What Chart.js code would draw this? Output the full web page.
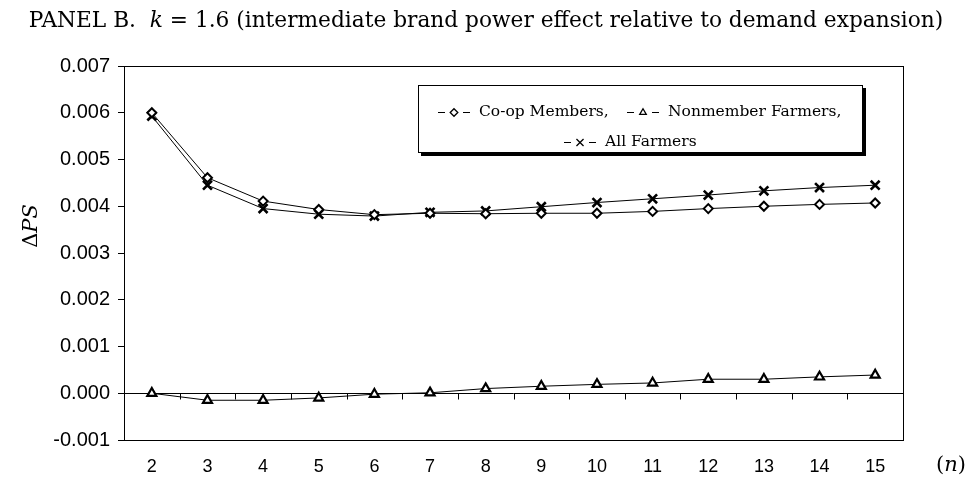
<!DOCTYPE html>
<html>
<head>
<meta charset="utf-8">
<script src="https://cdn.jsdelivr.net/npm/chart.js@4/dist/chart.umd.min.js"></script>
<style>
html,body{margin:0;padding:0;background:#fff;}
canvas{display:block;}
</style>
</head>
<body>
<canvas id="c" width="969" height="489"></canvas>
<script>
// ---- data ----
const nValues = [2, 3, 4, 5, 6, 7, 8, 9, 10, 11, 12, 13, 14, 15];
const coopMembers = [0.00600, 0.00461, 0.00411, 0.00393, 0.00382, 0.00385, 0.00384, 0.00385, 0.00385, 0.00389, 0.00395, 0.00400, 0.00404, 0.00407];
const nonmemberFarmers = [0.00000, -0.00015, -0.00015, -0.00010, -0.00002, 0.00001, 0.00010, 0.00015, 0.00019, 0.00022, 0.00030, 0.00030, 0.00035, 0.00039];
const allFarmers = [0.00593, 0.00445, 0.00395, 0.00383, 0.00379, 0.00387, 0.00390, 0.00399, 0.00408, 0.00416, 0.00424, 0.00433, 0.00440, 0.00445];
const yTicks = [-0.001, 0.000, 0.001, 0.002, 0.003, 0.004, 0.005, 0.006, 0.007];
const seriesNames = ['Co-op Members,', 'Nonmember Farmers,', 'All Farmers'];
const titleParts = [['PANEL B.  ', false], ['k', true], [' = 1.6 (intermediate brand power effect relative to demand expansion)', false]];
const yTitleParts = [['\u0394', false], ['PS', true]];
const xTitleParts = [['(', false], ['n', true], [')', false]];

const SERIF = '"DejaVu Serif", "Liberation Serif", serif';
const SANS = '"Liberation Sans", Arial, sans-serif';

function drawParts(ctx, parts, size, cx, cy) {
  const fonts = parts.map(p => (p[1] ? 'italic ' : '') + size + 'px ' + SERIF);
  let total = 0;
  const widths = parts.map((p, i) => { ctx.font = fonts[i]; const w = ctx.measureText(p[0]).width; total += w; return w; });
  let x = cx - total / 2;
  ctx.textAlign = 'left';
  ctx.textBaseline = 'middle';
  parts.forEach((p, i) => { ctx.font = fonts[i]; ctx.fillText(p[0], x, cy); x += widths[i]; });
}

const decor = {
  id: 'decor',
  beforeDatasetsDraw(chart) {
    const ctx = chart.ctx, a = chart.chartArea, xs = chart.scales.x, ys = chart.scales.y;
    ctx.save();
    ctx.strokeStyle = '#000';
    ctx.lineWidth = 1;
    // frame
    ctx.strokeRect(Math.round(a.left) + 0.5, Math.round(a.top) + 0.5, Math.round(a.right - a.left), Math.round(a.bottom - a.top));
    // zero line with category boundary ticks
    const y0 = Math.round(ys.getPixelForValue(0)) + 0.5;
    ctx.beginPath();
    ctx.moveTo(a.left, y0); ctx.lineTo(a.right, y0);
    for (let i = 0; i < nValues.length - 1; i++) {
      const xb = Math.round((xs.getPixelForValue(i) + xs.getPixelForValue(i + 1)) / 2) + 0.5;
      ctx.moveTo(xb, y0); ctx.lineTo(xb, y0 + 6);
    }
    ctx.stroke();
    ctx.restore();
  },
  afterDraw(chart) {
    const ctx = chart.ctx;
    ctx.save();
    ctx.fillStyle = '#000';
    // title
    drawParts(ctx, titleParts, 21.7, 486, 21);
    // y title (rotated)
    ctx.save();
    ctx.translate(32, 226);
    ctx.rotate(-Math.PI / 2);
    drawParts(ctx, yTitleParts, 21, 0, 0);
    ctx.restore();
    // x title
    drawParts(ctx, xTitleParts, 21, 951, 466);

    // legend box with shadow
    const L = 418, T = 85, R = 863, B = 153;
    ctx.fillStyle = '#000';
    ctx.fillRect(L + 3, B, R - L, 3);
    ctx.fillRect(R, T + 3, 3, B - T);
    ctx.fillStyle = '#fff';
    ctx.fillRect(L, T, R - L, B - T);
    ctx.strokeStyle = '#000';
    ctx.lineWidth = 1;
    ctx.strokeRect(L + 0.5, T + 0.5, R - L - 1, B - T - 1);

    const items = [
      {ds: 0, x: 438, y: 112},
      {ds: 1, x: 627, y: 112},
      {ds: 2, x: 564, y: 142}
    ];
    ctx.font = '15.5px ' + SERIF;
    items.forEach(it => {
      const ds = chart.data.datasets[it.ds];
      ctx.strokeStyle = '#000';
      ctx.lineWidth = 1;
      ctx.beginPath();
      ctx.moveTo(it.x, it.y + 0.5); ctx.lineTo(it.x + 7, it.y + 0.5);
      ctx.moveTo(it.x + 25, it.y + 0.5); ctx.lineTo(it.x + 32, it.y + 0.5);
      ctx.stroke();
      ctx.fillStyle = '#fff';
      ctx.strokeStyle = '#000';
      ctx.lineWidth = 1.3;
      Chart.helpers.drawPoint(ctx, {pointStyle: ds.pointStyle, radius: it.ds === 2 ? 5 : 3.8, borderWidth: 1.3}, it.x + 16, it.y + 0.5);
      ctx.fillStyle = '#000';
      ctx.textAlign = 'left';
      ctx.textBaseline = 'middle';
      ctx.fillText(ds.label, it.x + 41, it.y);
    });
    ctx.restore();
  }
};

const ctx = document.getElementById('c').getContext('2d');
new Chart(ctx, {
  type: 'line',
  data: {
    labels: nValues.map(String),
    datasets: [
      {label: seriesNames[0], data: coopMembers, borderColor: '#000', borderWidth: 1, pointStyle: 'rectRot', pointRadius: 4.5, pointBorderWidth: 2, pointBackgroundColor: '#fff', pointBorderColor: '#000', tension: 0},
      {label: seriesNames[1], data: nonmemberFarmers, borderColor: '#000', borderWidth: 1, pointStyle: 'triangle', pointRadius: 5.2, pointBorderWidth: 2.2, pointBackgroundColor: '#fff', pointBorderColor: '#000', tension: 0},
      {label: seriesNames[2], data: allFarmers, borderColor: '#000', borderWidth: 1, pointStyle: 'crossRot', pointRadius: 6.3, pointBorderWidth: 2.6, pointBackgroundColor: '#000', pointBorderColor: '#000', tension: 0}
    ]
  },
  options: {
    responsive: false,
    animation: false,
    devicePixelRatio: 1,
    layout: {padding: {left: 0, right: 66, top: 66, bottom: 0}},
    plugins: {legend: {display: false}, title: {display: false}, tooltip: {enabled: false}},
    scales: {
      x: {
        type: 'category',
        offset: true,
        grid: {display: false, drawTicks: false},
        border: {display: false},
        ticks: {color: '#000', font: {family: SANS, size: 18}, padding: 16, maxRotation: 0, autoSkip: false},
        afterFit(s) { s.height = 49; }
      },
      y: {
        min: yTicks[0],
        max: yTicks[yTicks.length - 1],
        afterBuildTicks(s) { s.ticks = yTicks.map(v => ({value: v})); },
        ticks: {color: '#000', font: {family: SANS, size: 20}, padding: 8, callback: v => Number(v).toFixed(3)},
        grid: {drawOnChartArea: false, tickLength: 6, color: '#000'},
        border: {display: true, color: '#000'},
        afterFit(s) { s.width = 124; }
      }
    }
  },
  plugins: [decor]
});
</script>
</body>
</html>
